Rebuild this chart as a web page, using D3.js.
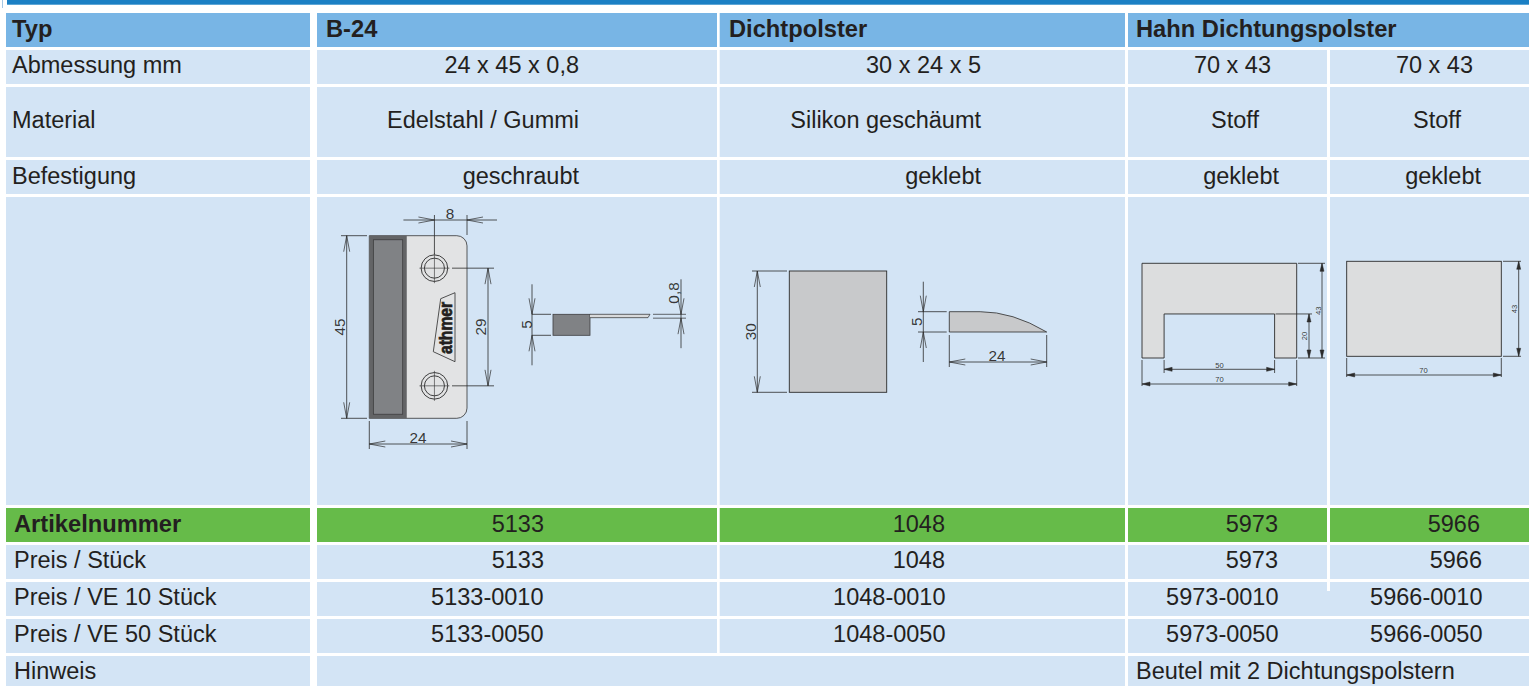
<!DOCTYPE html>
<html>
<head>
<meta charset="utf-8">
<title>Dichtpolster</title>
<script src="https://cdn.jsdelivr.net/npm/d3@7"></script>
<style>
html, body { margin: 0; padding: 0; background: #fff; overflow: hidden; }
svg { display: block; }
text { font-family: "Liberation Sans", Arial, sans-serif; fill: #231f20; }
</style>
</head>
<body>
<svg id="chart" width="1529" height="686"></svg>
<script>
// table content
var headerCells = ["Typ", "B-24", "Dichtpolster", "Hahn Dichtungspolster"]
var rowLabels = ["Abmessung mm", "Material", "Befestigung"]
var abmessung = ["24 x 45 x 0,8", "30 x 24 x 5", "70 x 43", "70 x 43"]
var material = ["Edelstahl / Gummi", "Silikon geschäumt", "Stoff", "Stoff"]
var befestigung = ["geschraubt", "geklebt", "geklebt", "geklebt"]
var orderLabels = ["Artikelnummer", "Preis / Stück", "Preis / VE 10 Stück", "Preis / VE 50 Stück", "Hinweis"]
var artikelnummer = ["5133", "1048", "5973", "5966"]
var preisStueck = ["5133", "1048", "5973", "5966"]
var preisVe10 = ["5133-0010", "1048-0010", "5973-0010", "5966-0010"]
var preisVe50 = ["5133-0050", "1048-0050", "5973-0050", "5966-0050"]
var hinweis = "Beutel mit 2 Dichtungspolstern"

// drawing sizes in mm
var plateSize = [24, 45], plateHoleFromEdge = 8, plateHoleSpan = 29, plateThickness = 0.8, plateBlock = 5
var padFront = [24, 30], padSide = [24, 5]
var hahnSize = [70, 43], hahnNotch = [50, 20]

// layout
var rowTop = [13, 50, 87, 160, 197, 508, 545, 582, 619, 656]
var rowBottom = [47, 84, 157, 194, 505, 542, 579, 616, 653, 686]
var colLeft = [6, 317, 719.7, 1128, 1330]
var colRight = [310, 717, 1125, 1327, 1529]
var upperEnds = [[579, 981, 1271, 1473], [579, 981, 1259, 1461], [579, 981, 1279, 1481]]
var lowerEnds = [[544, 945, 1278, 1480], [544, 945, 1278, 1482], [543.5, 945.5, 1278.5, 1482.5], [543.5, 945.5, 1278.5, 1482.5]]
var upperBase = [73, 128, 184], lowerBase = [532, 568, 605, 642], lastBase = 679
var fontSize = 23.5, boldSize = 23.7

var svg = d3.select("#chart")

svg.append("rect").attr("x", 7).attr("y", 0).attr("width", 1522).attr("height", 4.7).attr("fill", "#1b80c4")
svg.append("rect").attr("x", 2).attr("y", 0).attr("width", 0.8).attr("height", 8).attr("fill", "#8fb8dc")

// cell backgrounds
var cells = []
rowTop.forEach(function(top, r) {
    var hahnJoined = r == 0 || r >= 7 // the two Hahn columns run together in these rows
    colLeft.forEach(function(left, c) {
        var right = colRight[c]
        if (hahnJoined && c == 3) right = colRight[4]
        if (hahnJoined && c == 4) return
        if (r == 9 && c == 1) right = colRight[2] // Hinweis row has no divider here
        if (r == 9 && c == 2) return
        var color = r == 0 ? "#78b5e5" : r == 5 ? "#66bb49" : "#d3e4f5"
        cells.push({ x: left, y: top, w: right - left, h: rowBottom[r] - top, color: color })
    })
})
svg.append("g").selectAll("rect")
    .data(cells)
    .enter().append("rect")
    .attr("x", function(d) { return d.x })
    .attr("y", function(d) { return d.y })
    .attr("width", function(d) { return d.w })
    .attr("height", function(d) { return d.h })
    .attr("fill", function(d) { return d.color })

// the Hahn divider stops a few pixels into the VE 10 row
svg.append("rect").attr("x", colRight[3]).attr("y", rowTop[7]).attr("width", colLeft[4] - colRight[3]).attr("height", 9).attr("fill", "#fff")

var texts = []
var headerX = [12, 326, 729, 1136]
headerCells.forEach(function(t, i) { texts.push({ t: t, x: headerX[i], y: 37, bold: true }) })
rowLabels.forEach(function(t, i) { texts.push({ t: t, x: 12, y: upperBase[i] }) })
orderLabels.forEach(function(t, i) { texts.push({ t: t, x: 14, y: i < 4 ? lowerBase[i] : lastBase, bold: i == 0 }) })
;[abmessung, material, befestigung].forEach(function(row, r) {
    row.forEach(function(t, c) { texts.push({ t: t, x: upperEnds[r][c], y: upperBase[r], end: true }) })
})
;[artikelnummer, preisStueck, preisVe10, preisVe50].forEach(function(row, r) {
    row.forEach(function(t, c) { texts.push({ t: t, x: lowerEnds[r][c], y: lowerBase[r], end: true }) })
})
texts.push({ t: hinweis, x: 1136, y: lastBase })

svg.append("g").selectAll("text")
    .data(texts)
    .enter().append("text")
    .attr("x", function(d) { return d.x })
    .attr("y", function(d) { return d.y })
    .attr("font-size", function(d) { return d.bold ? boldSize : fontSize })
    .attr("font-weight", function(d) { return d.bold ? "bold" : "normal" })
    .attr("text-anchor", function(d) { return d.end ? "end" : "start" })
    .text(function(d) { return d.t })

// helpers for the dimension lines
var ink = "#2b2b2b"
function line(g, x1, y1, x2, y2, w) {
    g.append("line").attr("x1", x1).attr("y1", y1).attr("x2", x2).attr("y2", y2)
     .attr("stroke", ink).attr("stroke-width", w || 0.8)
}
function arrow(g, x, y, angle, small) {
    g.append("path")
     .attr("d", small ? "M-8,-2L0,0L-8,2Z" : "M-16,-3L0,0L-16,3")
     .attr("transform", "translate(" + x + "," + y + ") rotate(" + angle + ")")
     .attr("fill", small ? ink : "none")
     .attr("stroke", ink)
     .attr("stroke-width", small ? 0.5 : 0.7)
}
function dimLabel(g, t, x, y, rotated, size) {
    g.append("text")
     .attr("transform", "translate(" + x + "," + y + ")" + (rotated ? " rotate(-90)" : ""))
     .attr("text-anchor", "middle")
     .attr("dominant-baseline", "central")
     .attr("font-size", size || 15.3)
     .attr("fill-opacity", 0.9)
     .text(t)
}
// vertical dimension, a and b are the measured ends. over = how far the line runs past them when arrows sit outside
function dimV(g, x, a, b, over, small) {
    line(g, x, a - (over ? over[0] : 0), x, b + (over ? over[1] : 0))
    arrow(g, x, a, over ? 90 : -90, small)
    arrow(g, x, b, over ? -90 : 90, small)
}
function dimH(g, y, a, b, over, small) {
    line(g, a - (over ? over[0] : 0), y, b + (over ? over[1] : 0), y)
    arrow(g, a, y, over ? 0 : 180, small)
    arrow(g, b, y, over ? 180 : 0, small)
}

// ---- B-24 plate
function drawPlate() {
    var g = svg.append("g")
    var sx = d3.scaleLinear().domain([0, plateSize[0]]).range([369.3, 467])
    var sy = d3.scaleLinear().domain([0, plateSize[1]]).range([235.7, 418.3])
    var corner = sx(2.5) - sx(0)
    var p = d3.path()
    p.moveTo(sx(0), sy(0))
    p.lineTo(sx(24) - corner, sy(0))
    p.arcTo(sx(24), sy(0), sx(24), sy(0) + corner, corner)
    p.lineTo(sx(24), sy(45) - corner)
    p.arcTo(sx(24), sy(45), sx(24) - corner, sy(45), corner)
    p.lineTo(sx(0), sy(45))
    p.closePath()
    g.append("path").attr("d", p.toString()).attr("fill", "#e2e3e4").attr("stroke", "#333").attr("stroke-width", 0.8)
    g.append("rect").attr("x", sx(0)).attr("y", sy(0)).attr("width", sx(9.2) - sx(0)).attr("height", sy(45) - sy(0)).attr("fill", "#636466")
    g.append("rect").attr("x", sx(1)).attr("y", sy(1)).attr("width", sx(8.2) - sx(1)).attr("height", sy(44) - sy(1)).attr("fill", "#808285").attr("stroke", "#3d3d3f").attr("stroke-width", 0.8)

    var holeX = sx(plateSize[0] - plateHoleFromEdge)
    var holeY = [(plateSize[1] - plateHoleSpan) / 2, (plateSize[1] + plateHoleSpan) / 2].map(sy)
    holeY.forEach(function(y) {
        g.append("circle").attr("cx", holeX).attr("cy", y).attr("r", 13.3).attr("fill", "none").attr("stroke", ink).attr("stroke-width", 0.9)
        g.append("circle").attr("cx", holeX).attr("cy", y).attr("r", 10).attr("fill", "none").attr("stroke", ink).attr("stroke-width", 0.9)
        line(g, holeX - 15, y, holeX + 15, y, 0.6)
        line(g, holeX, y - 15, holeX, y + 15, 0.6)
    })

    // logo
    g.append("path").attr("d", "M455,292.7L455,361.7L433.3,351.7L440.7,298.7Z").attr("fill", "none").attr("stroke", ink).attr("stroke-width", 0.8)
    g.append("text")
     .attr("transform", "translate(452,354) rotate(-90)")
     .attr("font-size", 18).attr("font-weight", "bold")
     .attr("textLength", 52).attr("lengthAdjust", "spacingAndGlyphs")
     .attr("fill", "#f4f4f4").attr("stroke", "#231f20").attr("stroke-width", 0.7)
     .text("athmer")

    // 8
    line(g, holeX, 215, holeX, 254)
    line(g, sx(24), 215, sx(24), 235)
    dimH(g, 220, holeX, sx(24), [31, 30])
    dimLabel(g, plateHoleFromEdge, 450, 213)
    // 45
    line(g, 341, sy(0), 367, sy(0))
    line(g, 341, sy(45), 367, sy(45))
    dimV(g, 346.7, sy(0), sy(45))
    dimLabel(g, plateSize[1], 339.5, 327, true)
    // 29
    line(g, 452, holeY[0], 494, holeY[0])
    line(g, 452, holeY[1], 494, holeY[1])
    dimV(g, 488, holeY[0], holeY[1])
    dimLabel(g, plateHoleSpan, 480.5, 327, true)
    // 24
    line(g, sx(0), 421, sx(0), 449)
    line(g, sx(24), 421, sx(24), 449)
    dimH(g, 444, sx(0), sx(24))
    dimLabel(g, plateSize[0], 418, 437)

    // side view
    var bx = d3.scaleLinear().domain([0, 9.2]).range([553, 590])
    var by = d3.scaleLinear().domain([0, plateBlock]).range([314.3, 335.3])
    g.append("rect").attr("x", bx(0)).attr("y", by(0)).attr("width", bx(9.2) - bx(0)).attr("height", by(5) - by(0))
     .attr("fill", "#808285").attr("stroke", "#3d3d3f").attr("stroke-width", 0.8)
    var thin = by(plateThickness)
    g.append("path").attr("d", "M590," + by(0) + "L650," + by(0) + "L648," + thin + "L590," + thin)
     .attr("fill", "#d9dadb").attr("stroke", ink).attr("stroke-width", 0.7)
    line(g, 653, by(0), 686, by(0), 0.7)
    line(g, 653, thin + 0.5, 686, thin + 0.5, 0.7)
    dimV(g, 681, by(0), thin + 0.5, [35, 30], false)
    dimLabel(g, "0,8", 673, 293, true)
    line(g, 532, by(0), 551, by(0))
    line(g, 532, by(5), 551, by(5))
    dimV(g, 532, by(0), by(5), [30, 30])
    dimLabel(g, plateBlock, 526, 324.5, true)
}

// ---- Dichtpolster
function drawPad() {
    var g = svg.append("g")
    var sx = d3.scaleLinear().domain([0, padFront[0]]).range([789.3, 886.7])
    var sy = d3.scaleLinear().domain([0, padFront[1]]).range([271, 392.3])
    g.append("rect").attr("x", sx(0)).attr("y", sy(0)).attr("width", sx(24) - sx(0)).attr("height", sy(30) - sy(0))
     .attr("fill", "#c8c9cb").attr("stroke", ink).attr("stroke-width", 0.9)
    line(g, 752, sy(0), 787, sy(0))
    line(g, 752, sy(30), 787, sy(30))
    dimV(g, 757.3, sy(0), sy(30))
    dimLabel(g, padFront[1], 750, 331.7, true)

    var ax = d3.scaleLinear().domain([0, padSide[0]]).range([949.3, 1046.7])
    var ay = d3.scaleLinear().domain([0, padSide[1]]).range([311.7, 332])
    var p = d3.path()
    p.moveTo(ax(0), ay(0))
    p.lineTo(ax(7.6), ay(0))
    p.quadraticCurveTo(ax(15.6), ay(0), ax(24), ay(5))
    p.lineTo(ax(0), ay(5))
    p.closePath()
    g.append("path").attr("d", p.toString()).attr("fill", "#c8c9cb").attr("stroke", ink).attr("stroke-width", 0.8)
    line(g, 918, ay(0), 946.7, ay(0))
    line(g, 918, ay(5), 946.7, ay(5))
    dimV(g, 923.3, ay(0), ay(5), [30, 30])
    dimLabel(g, padSide[1], 916, 321.7, true)
    line(g, ax(0), 335, ax(0), 367)
    line(g, ax(24), 335, ax(24), 367)
    dimH(g, 362, ax(0), ax(24))
    dimLabel(g, padSide[0], 997, 355)
}

// ---- Hahn pads
function drawHahn() {
    var g = svg.append("g")
    var sx = d3.scaleLinear().domain([0, hahnSize[0]]).range([1142, 1296.7])
    var sy = d3.scaleLinear().domain([0, hahnSize[1]]).range([263.3, 358])
    var n0 = (hahnSize[0] - hahnNotch[0]) / 2, n1 = n0 + hahnNotch[0], ny = hahnSize[1] - hahnNotch[1]
    var p = d3.path()
    p.moveTo(sx(0), sy(0))
    p.lineTo(sx(70), sy(0))
    p.lineTo(sx(70), sy(43))
    p.lineTo(sx(n1), sy(43))
    p.lineTo(sx(n1), sy(ny))
    p.lineTo(sx(n0), sy(ny))
    p.lineTo(sx(n0), sy(43))
    p.lineTo(sx(0), sy(43))
    p.closePath()
    g.append("path").attr("d", p.toString()).attr("fill", "#dcddde").attr("stroke", ink).attr("stroke-width", 0.9)
    line(g, 1298, sy(0), 1325, sy(0))
    line(g, 1298, sy(43), 1325, sy(43))
    line(g, sx(n1) + 1, sy(ny), 1312, sy(ny))
    dimV(g, 1322, sy(0), sy(43), null, true)
    dimLabel(g, hahnSize[1], 1318, 310.7, true, 7.6)
    dimV(g, 1309, sy(ny), sy(43), null, true)
    dimLabel(g, hahnNotch[1], 1304, 336, true, 7.6)
    line(g, sx(n0), 360, sx(n0), 373)
    line(g, sx(n1), 360, sx(n1), 373)
    dimH(g, 369.3, sx(n0), sx(n1), null, true)
    dimLabel(g, hahnNotch[0], 1219.5, 365, false, 7.6)
    line(g, sx(0), 360, sx(0), 386)
    line(g, sx(70), 360, sx(70), 386)
    dimH(g, 384, sx(0), sx(70), null, true)
    dimLabel(g, hahnSize[0], 1219.5, 379, false, 7.6)

    var g2 = svg.append("g")
    var tx = d3.scaleLinear().domain([0, hahnSize[0]]).range([1346.7, 1501.3])
    var ty = d3.scaleLinear().domain([0, hahnSize[1]]).range([261.3, 356.3])
    g2.append("rect").attr("x", tx(0)).attr("y", ty(0)).attr("width", tx(70) - tx(0)).attr("height", ty(43) - ty(0))
      .attr("fill", "#dcddde").attr("stroke", ink).attr("stroke-width", 0.9)
    line(g2, 1503, ty(0), 1521, ty(0))
    line(g2, 1503, ty(43), 1521, ty(43))
    dimV(g2, 1518.7, ty(0), ty(43), null, true)
    dimLabel(g2, hahnSize[1], 1514, 309, true, 7.6)
    line(g2, tx(0), 358, tx(0), 377)
    line(g2, tx(70), 358, tx(70), 377)
    dimH(g2, 375, tx(0), tx(70), null, true)
    dimLabel(g2, hahnSize[0], 1423.5, 370, false, 7.6)
}

drawPlate()
drawPad()
drawHahn()
</script>
</body>
</html>
